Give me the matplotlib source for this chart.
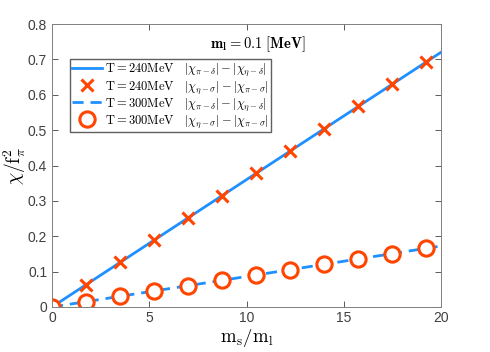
import matplotlib
matplotlib.use("Agg")
import matplotlib.pyplot as plt

# m_s/m_l values
ratio = [0, 1.75, 3.5, 5.25, 7, 8.75, 10.5, 12.25, 14, 15.75, 17.5, 19.25]
ratio_line = [0, 20]

# T = 240 MeV
chi_240_line = [0, 0.72]
chi_240_pts = [0, 0.063, 0.126, 0.189, 0.252, 0.315, 0.378, 0.441, 0.504, 0.567, 0.630, 0.693]

# T = 300 MeV
ratio_300_line = [0, 1.75, 3.5, 5.25, 7, 8.75, 10.5, 12.25, 14, 15.75, 17.5, 19.25, 20]
chi_300_line = [0, 0.0151, 0.0302, 0.0453, 0.0603, 0.0754, 0.0905, 0.1056,
                0.1207, 0.1358, 0.1509, 0.166, 0.1725]
chi_300_pts = [0, 0.0151, 0.0302, 0.0453, 0.0603, 0.0754, 0.0905, 0.1056,
               0.1207, 0.1358, 0.1509, 0.166]

labels = [
    r"$\mathrm{T=240MeV}\quad|\chi_{\pi-\delta}|-|\chi_{\eta-\delta}|$",
    r"$\mathrm{T=240MeV}\quad|\chi_{\eta-\sigma}|-|\chi_{\pi-\sigma}|$",
    r"$\mathrm{T=300MeV}\quad|\chi_{\pi-\delta}|-|\chi_{\eta-\delta}|$",
    r"$\mathrm{T=300MeV}\quad|\chi_{\eta-\sigma}|-|\chi_{\pi-\sigma}|$",
]

plt.rcParams['mathtext.fontset'] = 'cm'
plt.rcParams['font.family'] = ['Liberation Sans', 'DejaVu Sans']

blue = '#1E90FF'
red = '#FF4500'
grey = '#404040'

fig = plt.figure(figsize=(4.9, 3.52), dpi=100)
ax = fig.add_axes([52 / 490, 45 / 352, 389 / 490, 283 / 352])

ax.plot(ratio_line, chi_240_line, color=blue, lw=2, label=labels[0])
ax.plot(ratio, chi_240_pts, ls='none', marker='x', ms=8, mew=2.2, color=red, label=labels[1])
ax.plot(ratio_300_line, chi_300_line, color=blue, lw=2, ls=(0, (4, 2.5)), label=labels[2])
ax.plot(ratio, chi_300_pts, ls='none', marker='o', ms=11, mew=2.2, color=red,
        mfc='white', label=labels[3])

ax.set_xlim(0, 20)
ax.set_ylim(0, 0.8)
ax.set_xticks([0, 5, 10, 15, 20])
ax.set_yticks([0, 0.1, 0.2, 0.3, 0.4, 0.5, 0.6, 0.7, 0.8])
ax.set_yticklabels(['0', '0.1', '0.2', '0.3', '0.4', '0.5', '0.6', '0.7', '0.8'])
ax.tick_params(direction='in', length=4, top=True, right=True, labelsize=10,
               colors=grey, width=0.6)
ax.tick_params(axis='x', pad=3)
for s in ax.spines.values():
    s.set_color('#808080')
    s.set_linewidth(0.7)

ax.set_xlabel(r"$\mathrm{m_s/m_l}$", fontsize=13.5, va='top')
ax.xaxis.set_label_coords(0.5, -0.072)
ax.set_ylabel(r"$\chi/\mathrm{f}_\pi^2$", fontsize=14)
ax.yaxis.set_label_coords(-0.062, 0.5)

ax.text(0.53, 0.93, r"$\mathbf{m_l = 0.1\ [MeV]}$", transform=ax.transAxes,
        ha='center', va='center', fontsize=10.5)

ax.legend(loc='upper left', bbox_to_anchor=(0.045, 0.875), fontsize=9,
          fancybox=False, edgecolor='#606060', framealpha=1, borderpad=0.2,
          labelspacing=0.05, handlelength=2.4, handletextpad=0.2, borderaxespad=0)

fig.savefig('out.png', dpi=100)
